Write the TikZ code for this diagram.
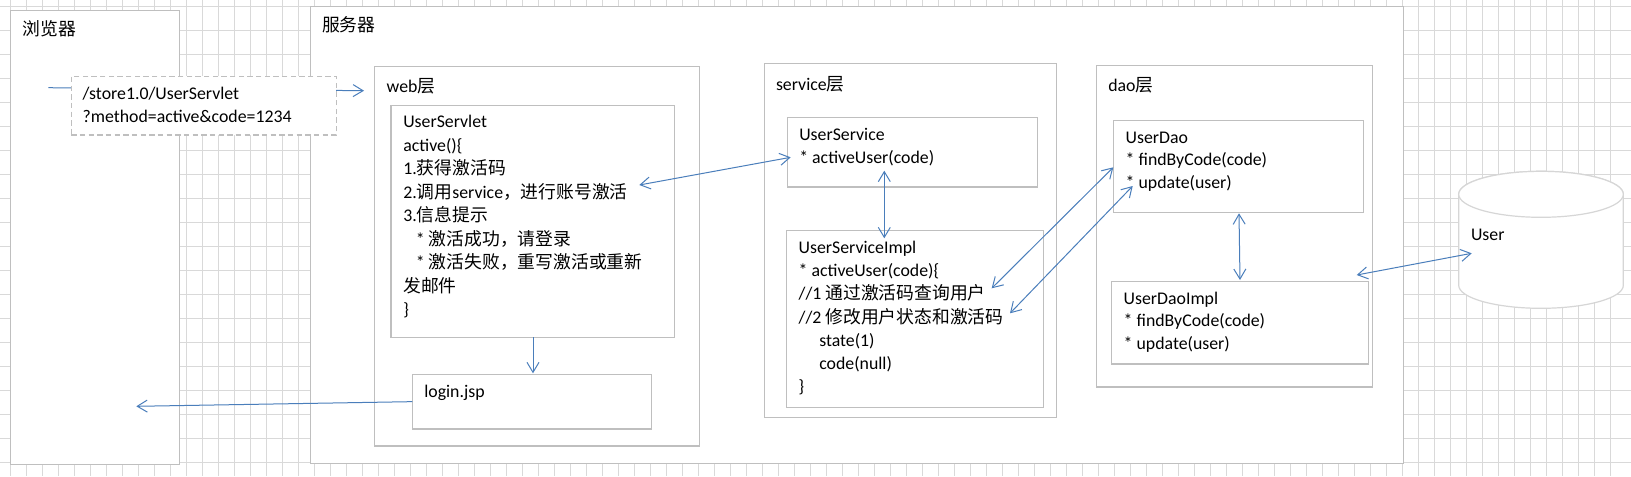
\documentclass[tikz,border=0pt]{standalone}
\usepackage{fontspec}
\setmainfont{Carlito}
\newfontfamily\cjk{Noto Sans CJK SC}
\usetikzlibrary{arrows.meta}
\definecolor{gridc}{RGB}{217,217,217}
\definecolor{boxc}{RGB}{191,191,191}
\definecolor{arrc}{RGB}{74,126,187}
\definecolor{cylc}{RGB}{214,214,214}
\newcommand\zh[1]{{\cjk #1}}
\newcommand\fst{\rule[-3.5pt]{0pt}{12.5pt}}
\newcommand\mkbox[6][]{\node[boxst,#1,anchor=north west,minimum width={(#5-#3)*0.75pt},minimum height={(#6-#4)*0.75pt}] (#2) at (#3,#4) {};}
\newcommand\tx[5]{\node[txt,font=\fontsize{13.35}{#4}\selectfont] (#1) at (#2,#3-16.67) {\fst #5};}
\begin{document}
\begin{tikzpicture}[x=0.75pt,y=-0.75pt,
  gridst/.style={draw=gridc,line width=0.85pt},
  boxst/.style={draw=boxc,line width=1pt,fill=white,inner sep=0pt,outer sep=0pt},
  dashst/.style={dash pattern=on 4pt off 2.5pt},
  cylst/.style={draw=cylc,line width=0.9pt,fill=white},
  txt/.style={anchor=north west,inner sep=0pt,outer sep=0pt,align=left},
  conn/.style={draw=arrc,line width=0.75pt,-{Straight Barb[length=7.5pt,width=9pt]}},
  dconn/.style={draw=arrc,line width=0.75pt,{Straight Barb[length=7.5pt,width=9pt]}-{Straight Barb[length=7.5pt,width=9pt]}}]
\useasboundingbox (0,0) rectangle (1631,476);
\fill[white] (0,0) rectangle (1631,476);
\foreach \i in {0,...,100} \draw[gridst] ({10.5+16*\i},0) -- ({10.5+16*\i},476);
\foreach \j in {0,...,19} \draw[gridst] (0,{6.3+24*\j}) -- (1631,{6.3+24*\j});
% big boxes
\mkbox{browser}{10.7}{10.7}{179.3}{464.3}
\mkbox{server}{310.5}{6.7}{1403.3}{463.3}
\mkbox{web}{374.3}{66.3}{699.3}{446}
\mkbox{service}{764.3}{63.3}{1056.3}{417.3}
\mkbox{dao}{1096.7}{65.3}{1372.3}{387}
\mkbox{servlet}{391}{105.3}{674.7}{337.3}
\mkbox{login}{412.3}{374.3}{651.3}{429}
\mkbox{us}{787.3}{117.3}{1037.3}{187}
\mkbox{usi}{786.3}{230.3}{1043.3}{407.3}
\mkbox{ud}{1113.3}{120.3}{1363.3}{212.3}
\mkbox{udi}{1111.3}{281.3}{1368.3}{364}
% database cylinder
\filldraw[cylst] (1458.7,194.3) -- (1458.7,285.3) arc[start angle=180,end angle=360,x radius=61.73pt,y radius=17.25pt] -- (1623.3,194.3) arc[start angle=0,end angle=180,x radius=61.73pt,y radius=17.25pt] -- cycle;
\draw[cylst] (1541,194.3) ellipse [x radius=61.73pt,y radius=17.25pt];
\coordinate (db) at (1541,240);
% labels
\tx{tbrowser}{22.7}{37.5}{17.8pt}{\zh{浏览器}}
\tx{tserver}{322}{33.3}{17.8pt}{\zh{服务器}}
\tx{tweb}{386.7}{95.3}{17.8pt}{web\zh{层}}
\tx{tservice}{776}{92.8}{17.8pt}{service\zh{层}}
\tx{tdao}{1108.3}{94.5}{17.8pt}{dao\zh{层}}
\tx{tuser}{1471}{245.1}{17.8pt}{User}
\tx{tlogin}{424.3}{401.8}{17.8pt}{login.jsp}
\tx{tservlet}{403.3}{131.8}{17.65pt}{UserServlet\\
active()\{\\
1.\zh{获得激活码}\\
2.\zh{调用}service\zh{，进行账号激活}\\
3.\zh{信息提示}\\
\hspace*{9.5pt}* \zh{激活成功，请登录}\\
\hspace*{9.5pt}* \zh{激活失败，重写激活或重新}\\
\zh{发邮件}\\
\}}
\tx{tus}{799.3}{145.1}{17.48pt}{UserService\\
{}* activeUser(code)}
\tx{tusi}{798.7}{257.8}{17.38pt}{UserServiceImpl\\
{}* activeUser(code)\{\\
//1 \zh{通过激活码查询用户}\\
//2 \zh{修改用户状态和激活码}\\
\hspace*{15.45pt}state(1)\\
\hspace*{15.45pt}code(null)\\
\}}
\tx{tud}{1125.7}{147.8}{17.03pt}{UserDao\\
{}* findByCode(code)\\
{}* update(user)}
\tx{tudi}{1123.7}{308.5}{16.88pt}{UserDaoImpl\\
{}* findByCode(code)\\
{}* update(user)}
% connector end points
\coordinate (a1s) at (48.3,87.7);
\coordinate (a1e) at (364,90.7);
\coordinate (a2e) at (136.3,406.3);
\coordinate (a3s) at (533,337.3);
\coordinate (a3e) at (533,373.3);
\coordinate (a4s) at (639.3,185);
\coordinate (a4e) at (790.7,157.3);
\coordinate (a5s) at (884.3,170.7);
\coordinate (a5e) at (884.3,238.3);
\coordinate (a6s) at (991.7,288.3);
\coordinate (a6e) at (1113.3,167.3);
\coordinate (a7s) at (1010,313.3);
\coordinate (a7e) at (1132.7,186);
\coordinate (a8s) at (1239,213.3);
\coordinate (a8e) at (1240,280);
\coordinate (a9s) at (1356.7,275);
\coordinate (a9e) at (1471.7,253.3);
% connectors
\draw[conn] (a1s) -- (a1e);
\draw[conn] (login.west) -- (a2e);
\draw[conn] (a3s) -- (a3e);
\draw[dconn] (a4s) -- (a4e);
\draw[dconn] (a5s) -- (a5e);
\draw[dconn] (a6s) -- (a6e);
\draw[dconn] (a7s) -- (a7e);
\draw[dconn] (a8s) -- (a8e);
\draw[dconn] (a9s) -- (a9e);
% request URL box on top
\mkbox[dashst]{url}{71.3}{76.3}{336.3}{135}
\tx{turl}{82.7}{104.1}{17.03pt}{/store1.0/UserServlet\\
?method=active\&code=1234}
\end{tikzpicture}
\end{document}
